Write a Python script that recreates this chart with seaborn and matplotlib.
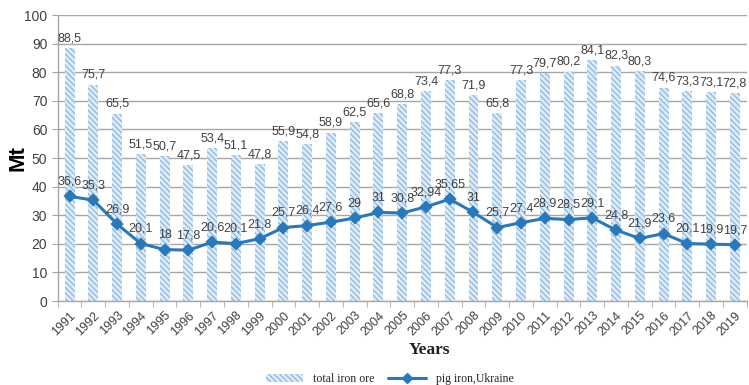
import matplotlib
matplotlib.use("Agg")
import matplotlib.pyplot as plt
import seaborn as sns
import pandas as pd
from matplotlib.patches import Patch
from matplotlib.lines import Line2D

years = [str(y) for y in range(1991, 2020)]
iron_ore = [88.5, 75.7, 65.5, 51.5, 50.7, 47.5, 53.4, 51.1, 47.8, 55.9,
            54.8, 58.9, 62.5, 65.6, 68.8, 73.4, 77.3, 71.9, 65.8, 77.3,
            79.7, 80.2, 84.1, 82.3, 80.3, 74.6, 73.3, 73.1, 72.8]
pig_iron = [36.6, 35.3, 26.9, 20.1, 18, 17.8, 20.6, 20.1, 21.8, 25.7,
            26.4, 27.6, 29, 31, 30.8, 32.94, 35.65, 31, 25.7, 27.4,
            28.9, 28.5, 29.1, 24.8, 21.9, 23.6, 20.1, 19.9, 19.7]
ore_labels = [f"{v:g}".replace(".", ",") for v in iron_ore]
pig_labels = [f"{v:g}".replace(".", ",") for v in pig_iron]

df = pd.DataFrame({"year": years, "ore": iron_ore, "pig": pig_iron})

sns.set_style("white")
plt.rcParams["font.family"] = ["Liberation Sans", "DejaVu Sans"]
plt.rcParams["hatch.linewidth"] = 0.8
plt.rcParams["hatch.color"] = "#82b3de"

fig = plt.figure(figsize=(7.49, 3.85), dpi=100)
ax = fig.add_axes([0.077, 0.218, 0.92, 0.743])

line_col = "#2a78b8"
text_col = "#404040"
hatch = "\\\\\\\\\\\\"

sns.barplot(data=df, x="year", y="ore", ax=ax, color="#deebf7",
            width=0.42, saturation=1, edgecolor="none", zorder=2)
for p in ax.patches:
    p.set_hatch(hatch)
    p.set_edgecolor("#82b3de")
    p.set_linewidth(0)

sns.pointplot(data=df, x="year", y="pig", ax=ax, color=line_col,
              markers="D", markersize=5, linewidth=2.2, zorder=4)

for i, (v, t) in enumerate(zip(iron_ore, ore_labels)):
    ax.text(i, v + 1.3, t, ha="center", va="bottom", fontsize=9,
            color=text_col, zorder=5)
for i, (v, t) in enumerate(zip(pig_iron, pig_labels)):
    ax.text(i, v + 3.0, t, ha="center", va="bottom", fontsize=9,
            color=text_col, zorder=5)

ax.set_ylim(0, 100)
ax.set_xlim(-0.5, len(years) - 0.5)
ax.set_yticks(range(0, 101, 10))
ax.yaxis.grid(True, color="#a6a6a6", linewidth=1)
ax.set_axisbelow(True)
for s in ["top", "right"]:
    ax.spines[s].set_visible(False)
for s in ["left", "bottom"]:
    ax.spines[s].set_color("#a6a6a6")
    ax.spines[s].set_linewidth(1)

ax.set_xticks(range(len(years)))
ax.set_xticklabels(years, rotation=45, ha="right", rotation_mode="anchor",
                   fontsize=9, color=text_col)
ax.tick_params(axis="x", which="major", length=0, pad=6)
ax.set_xticks([i - 0.5 for i in range(len(years) + 1)], minor=True)
ax.tick_params(axis="x", which="minor", length=4, color="#a6a6a6",
               direction="out", bottom=True)
ax.tick_params(axis="y", labelsize=10, colors=text_col, length=4,
               color="#a6a6a6", left=True)

ax.set_ylabel("Mt", fontsize=16, fontweight="bold", color="black")
ax.yaxis.set_label_coords(-0.042, 0.5)
ax.set_xlabel("")
fig.text(0.574, 0.092, "Years", ha="center", va="center", fontsize=12.5,
         fontweight="bold", family="Liberation Serif", color="#222222")

handles = [
    Patch(facecolor="#deebf7", edgecolor="#82b3de", hatch=hatch, linewidth=0),
    Line2D([0], [0], color=line_col, marker="D", markersize=5, linewidth=2.2),
]
fig.legend(handles, ["total iron ore", "pig iron,Ukraine"], loc="center",
           bbox_to_anchor=(0.52, 0.016), ncol=2, frameon=False,
           handlelength=3.2, columnspacing=1.2,
           prop={"family": "Liberation Serif", "size": 8.5})

fig.savefig("out.png", dpi=100)
